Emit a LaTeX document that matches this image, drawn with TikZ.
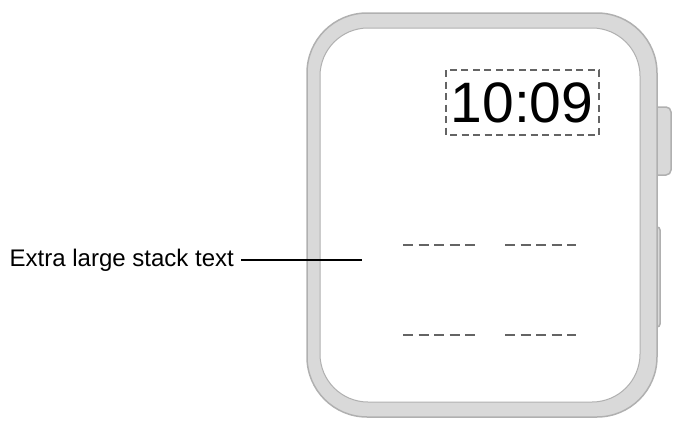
\documentclass[tikz,border=0pt]{standalone}
\usepackage{fontspec}
\setmainfont{Liberation Sans}
\definecolor{CaseGray}{RGB}{217,217,217}
\definecolor{EdgeGray}{RGB}{176,176,176}
\definecolor{DashGray}{RGB}{100,100,100}
\tikzstyle{caseline} = [draw=EdgeGray, fill=CaseGray, line width=1.5pt]
\tikzstyle{placeholder} = [draw=DashGray, line width=1.5pt, dash pattern=on 10pt off 5.5pt]
\tikzstyle{callout} = [draw=black, line width=1.2pt]
\begin{document}
\begin{tikzpicture}[x=1pt, y=-1pt]
		\useasboundingbox (0,0) rectangle (686,431);
		
		% crown and button
		\draw [caseline, rounded corners=5pt] (645,107) rectangle (671,175);
		\draw [caseline, rounded corners=3pt] (645,227) rectangle (660,327);
		
		% case and screen
		\draw [caseline, rounded corners=60pt] (307,13) rectangle (657,417);
		\draw [draw=EdgeGray, fill=white, line width=1pt, rounded corners=48pt] (320,28) rectangle (640,402);
		
		% time
		\node [inner sep=0pt] (Time) at (522,103) {\fontsize{57}{57}\selectfont 10:09};
		\draw [placeholder, dash pattern=on 7pt off 4.5pt] (446,70) rectangle (599,135);
		
		% stack text rows
		\foreach \r/\y in {1/245,2/335} {
			\coordinate (L\r a) at (403,\y);
			\coordinate (L\r b) at (475,\y);
			\coordinate (R\r a) at (505,\y);
			\coordinate (R\r b) at (576,\y);
			\draw [placeholder] (L\r a) -- (L\r b);
			\draw [placeholder] (R\r a) -- (R\r b);
		}
		
		% label
		\node [anchor=east, inner sep=0pt] (Label) at (234,260) {\fontsize{24}{26}\selectfont Extra large stack text};
		\coordinate (LabelEnd) at (362,260);
		\draw [callout] ([xshift=7pt]Label.east) -- (LabelEnd);
\end{tikzpicture}
\end{document}
